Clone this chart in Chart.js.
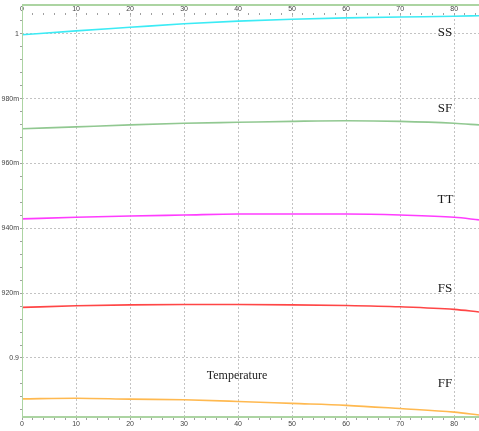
<!DOCTYPE html>
<html>
<head>
<meta charset="utf-8">
<script src="https://cdn.jsdelivr.net/npm/chart.js@4/dist/chart.umd.min.js"></script>
<style>
  html, body { margin: 0; padding: 0; background: #fff; }
  #wrap { width: 479px; height: 431px; }
</style>
</head>
<body>
<div id="wrap"><canvas id="chart" width="479" height="431"></canvas></div>
<script>
// x positions of the sampled points
const xValues = [0, 10, 20, 30, 40, 50, 60, 70, 80, 84.6];

// series values
const ssValues = [0.9997, 1.0009, 1.0020, 1.0031, 1.0039, 1.0045, 1.0049, 1.0052, 1.0054, 1.0056];
const sfValues = [0.9707, 0.9713, 0.9719, 0.9724, 0.9727, 0.9730, 0.9732, 0.9730, 0.9724, 0.9719];
const ttValues = [0.9429, 0.9434, 0.9438, 0.9441, 0.9444, 0.9444, 0.9444, 0.9441, 0.9434, 0.9426];
const fsValues = [0.9156, 0.9161, 0.9164, 0.9165, 0.9165, 0.9164, 0.9162, 0.9158, 0.9150, 0.9142];
const ffValues = [0.8874, 0.8876, 0.8873, 0.8871, 0.8866, 0.8860, 0.8854, 0.8844, 0.8833, 0.8824];

// tick labels
const xTickValues = [0, 10, 20, 30, 40, 50, 60, 70, 80];
const yTickValues = [0.9, 0.92, 0.94, 0.96, 0.98, 1.0];
const yTickLabels = ["0.9", "920m", "940m", "960m", "980m", "1"];

// text labels inside the plot
const noteTexts = ["SS", "SF", "TT", "FS", "FF", "Temperature"];
const noteX = [78.3, 78.3, 78.4, 78.3, 78.3, 39.8];
const noteY = [1.0003, 0.9769, 0.9488, 0.9213, 0.8920, 0.8945];

const GREEN = "rgb(172,212,162)";
const GRID = "rgb(195,195,195)";
const NONE = "rgba(0,0,0,0)";

function makeSeries(values, color) {
  return {
    data: xValues.map((x, i) => ({ x: x, y: values[i] })),
    borderColor: color,
    borderWidth: 1.6,
    pointRadius: 0,
    cubicInterpolationMode: "monotone",
    fill: false,
  };
}

function xMinorTicks(scale) {
  const ticks = [];
  for (let v = 0; v <= 84; v += 2) ticks.push({ value: v });
  scale.ticks = ticks;
}

function isMajorX(v) {
  return v % 10 === 0;
}

const frameAndNotes = {
  id: "frameAndNotes",
  afterDraw(chart) {
    const ctx = chart.ctx;
    const area = chart.chartArea;
    const top = chart.scales.x2.top;
    ctx.save();
    ctx.strokeStyle = GREEN;
    ctx.lineWidth = 2;
    ctx.beginPath();
    ctx.moveTo(area.left, top + 1);
    ctx.lineTo(area.right, top + 1);
    ctx.moveTo(area.left, area.bottom);
    ctx.lineTo(area.right, area.bottom);
    ctx.stroke();
    ctx.lineWidth = 1;
    ctx.beginPath();
    ctx.moveTo(area.left + 0.5, top);
    ctx.lineTo(area.left + 0.5, area.bottom);
    ctx.stroke();

    const xs = chart.scales.x;
    const ys = chart.scales.y;
    ctx.fillStyle = "#1a1a1a";
    ctx.textAlign = "center";
    ctx.textBaseline = "middle";
    noteTexts.forEach((t, i) => {
      ctx.font = t.length > 2 ? "12px 'Liberation Serif'" : "13px 'Liberation Serif'";
      ctx.fillText(t, xs.getPixelForValue(noteX[i]), ys.getPixelForValue(noteY[i]));
    });
    ctx.restore();
  },
};

new Chart(document.getElementById("chart"), {
  type: "line",
  data: {
    datasets: [
      makeSeries(ssValues, "rgb(60,235,245)"),
      makeSeries(sfValues, "rgb(145,200,145)"),
      makeSeries(ttValues, "rgb(255,60,255)"),
      makeSeries(fsValues, "rgb(255,70,70)"),
      makeSeries(ffValues, "rgb(255,185,80)"),
    ],
  },
  options: {
    responsive: false,
    animation: false,
    devicePixelRatio: 1,
    layout: { padding: { top: 4, right: 0, bottom: 0, left: 0 } },
    plugins: { legend: { display: false }, tooltip: { enabled: false } },
    scales: {
      x: {
        type: "linear",
        position: "bottom",
        min: 0,
        max: 84.6,
        afterBuildTicks: xMinorTicks,
        afterFit: (scale) => { scale.height = 14; },
        border: { display: false, dash: [2, 2] },
        grid: {
          color: (c) => (isMajorX(c.tick.value) ? GRID : NONE),
          tickColor: "#a0a0a0",
          tickLength: 3,
        },
        ticks: {
          autoSkip: false,
          maxRotation: 0,
          padding: 0,
          color: "#444",
          font: { family: "Liberation Sans", size: 7 },
          callback: (v) => (xTickValues.includes(v) ? String(v) : ""),
        },
      },
      x2: {
        type: "linear",
        position: "top",
        min: 0,
        max: 84.6,
        afterBuildTicks: xMinorTicks,
        afterFit: (scale) => { scale.height = 11; },
        border: { display: false },
        grid: {
          drawOnChartArea: false,
          tickColor: "#a0a0a0",
          tickLength: 2,
        },
        ticks: {
          autoSkip: false,
          maxRotation: 0,
          padding: 0,
          color: "#444",
          font: { family: "Liberation Sans", size: 7 },
          callback: (v) => (xTickValues.includes(v) ? String(v) : ""),
        },
      },
      y: {
        type: "linear",
        min: 0.8818,
        max: 1.0058,
        afterBuildTicks: (scale) => {
          const ticks = [];
          for (let i = 221; i <= 251; i++) ticks.push({ value: (i * 4) / 1000 });
          scale.ticks = ticks;
        },
        afterFit: (scale) => { scale.width = 22; },
        border: { display: false, dash: [2, 2] },
        grid: {
          color: (c) => (Math.round(c.tick.value * 1000) % 20 === 0 ? GRID : NONE),
          tickColor: "#a0a0a0",
          tickLength: 2,
        },
        ticks: {
          autoSkip: false,
          padding: 1,
          color: "#444",
          font: { family: "Liberation Sans", size: 7 },
          callback: (v) => {
            const i = yTickValues.findIndex((t) => Math.abs(t - v) < 1e-6);
            return i >= 0 ? yTickLabels[i] : "";
          },
        },
      },
    },
  },
  plugins: [frameAndNotes],
});
</script>
</body>
</html>
